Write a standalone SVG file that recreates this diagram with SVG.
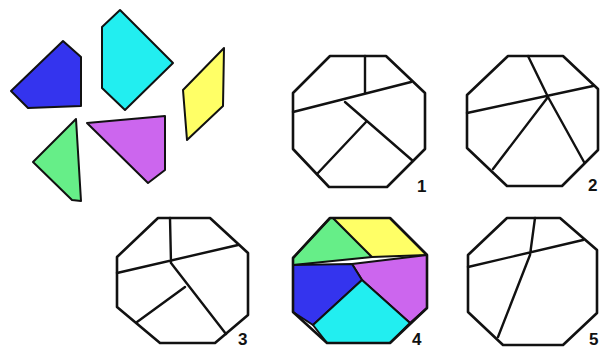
<svg xmlns="http://www.w3.org/2000/svg" width="600" height="349" viewBox="0 0 600 349">
<style>
.oct{fill:none;stroke:#111;stroke-width:2.6;stroke-linejoin:round}
.ln{fill:none;stroke:#111;stroke-width:2.4;stroke-linecap:round;stroke-linejoin:round}
.pc{stroke:#111;stroke-width:2;stroke-linejoin:round}
.lbl{font-family:"Liberation Sans",Arial,sans-serif;font-weight:bold;font-size:17px;fill:#111}
.blue{fill:#3434ee}.cyan{fill:#22eef0}.yellow{fill:#ffff66}.green{fill:#66ee88}.purple{fill:#cc66ee}
</style>
<rect width="600" height="349" fill="#fff"/>
<g id="pieces">
<polygon id="piece-blue" class="pc blue" points="63,41 81,57 81,106 28,108 11,91"/>
<polygon id="piece-cyan" class="pc cyan" points="120,10 173,63 125,110 102,88 102,27"/>
<polygon id="piece-yellow" class="pc yellow" points="224,48 223,106 187,140 183,90"/>
<polygon id="piece-green" class="pc green" points="76,119 81,201 72,200 33,162"/>
<polygon id="piece-purple" class="pc purple" points="87,123 165,116 165,170 148,183"/>
</g>
<g id="oct1">
<polygon class="oct" points="330,56 386,56 425,93 425,149 387,187 329,187 293,149 293,93"/>
<path class="ln" d="M365,56 L365,93 M293,112 L411,82 M345,102 L413,161 M366,122 L317,174"/>
<text class="lbl" x="417" y="192">1</text>
</g>
<g id="oct2">
<polygon class="oct" points="508,56 563,56 598,89 598,150 562,186 507,186 467,148 467,95"/>
<path class="ln" d="M528,56 L548,97 L584,162 M467,113 L593,86 M548,97 L493,169"/>
<text class="lbl" x="588" y="191">2</text>
</g>
<g id="oct3">
<polygon class="oct" points="158,218 210,218 248,253 248,315 215,343 160,343 117,307 117,257"/>
<path class="ln" d="M170,218 L171,263 M117,273 L238,245 M171,263 L226,334 M185,287 L137,322"/>
<text class="lbl" x="238" y="345">3</text>
</g>
<g id="oct4">
<polygon class="pc green" points="330,218 333,218 372,257 293,265 293,258"/>
<polygon class="pc yellow" points="333,218 390,218 427,255 372,257"/>
<polygon class="pc purple" points="352,264 427,255 427,308 410,323 362,280"/>
<polygon class="pc blue" points="293,265 352,264 362,280 313,325 293,312"/>
<polygon class="pc cyan" points="362,280 410,323 390,343 327,343 313,325"/>
<polygon class="oct" points="330,218 390,218 427,255 427,308 390,343 327,343 293,312 293,258"/>
<text class="lbl" x="412" y="345">4</text>
</g>
<g id="oct5">
<polygon class="oct" points="507,218 560,218 597,250 597,313 563,345 503,345 468,312 468,255"/>
<path class="ln" d="M535,218 L530,255 L498,337 M468,267 L583,240"/>
<text class="lbl" x="589" y="345">5</text>
</g>
</svg>
